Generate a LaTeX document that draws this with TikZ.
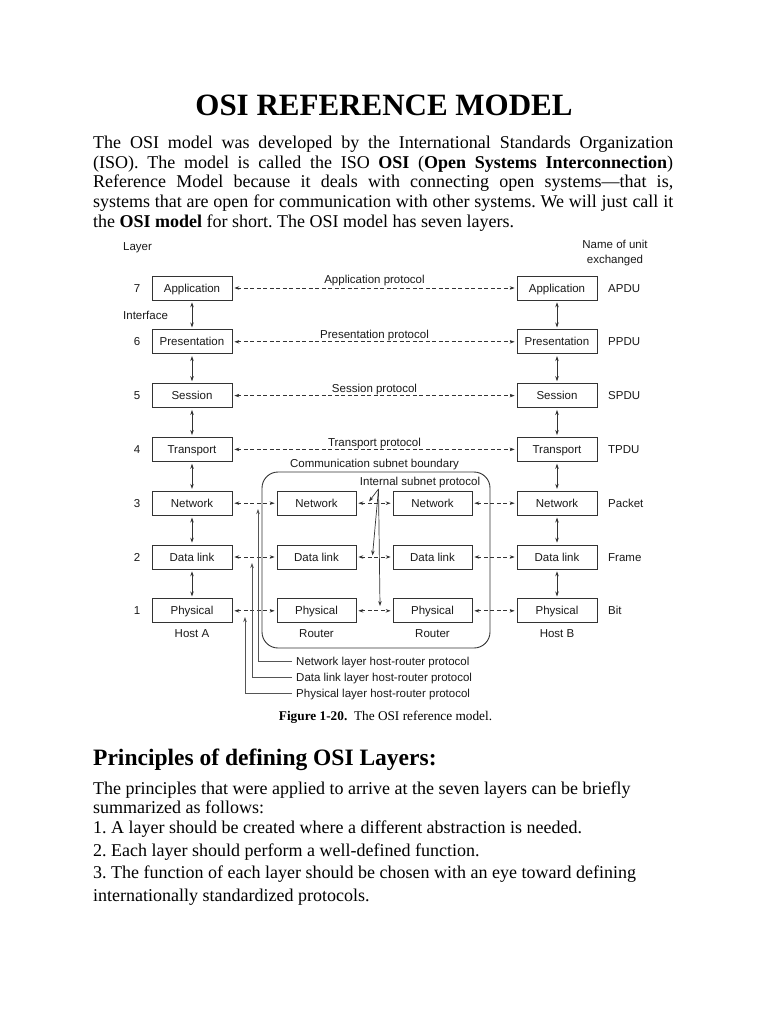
\documentclass[tikz,border=0pt]{standalone}
\usepackage{fontspec}
\setmainfont{Liberation Serif}
\newfontfamily\dsans{Liberation Sans}
\usetikzlibrary{arrows.meta}
\definecolor{linec}{HTML}{333333}
\definecolor{txt}{HTML}{1A1A1A}
\definecolor{hrc}{HTML}{555555}
\frenchspacing
\begin{document}
\begin{tikzpicture}[x=1pt,y=-1pt,
  lay/.style={draw=linec, line width=0.7pt, minimum width=80pt, minimum height=24pt, inner sep=0pt, text height=8.2pt, text depth=0pt, font=\dsans\fontsize{11.5}{13}\selectfont, text=txt},
  lbl/.style={font=\dsans\fontsize{11.5}{13}\selectfont, text=txt, inner sep=0pt, text height=8.2pt, text depth=0pt},
  proto/.style={draw=linec, line width=0.75pt, dash pattern=on 4pt off 2.5pt, {Stealth[length=5pt,width=3.5pt]}-{Stealth[length=5pt,width=3.5pt]}, shorten <=2pt, shorten >=2pt},
  iface/.style={draw=linec, line width=0.7pt, {Stealth[length=5pt,width=3.5pt]}-{Stealth[length=5pt,width=3.5pt]}, shorten <=2pt, shorten >=2pt},
  isp/.style={draw=linec, line width=0.7pt, -{Stealth[length=5pt,width=3.5pt]}},
  hr/.style={draw=hrc, line width=0.7pt, -{Stealth[length=5pt,width=3.5pt]}},
  body/.style={font=\fontsize{18}{21}\selectfont, inner sep=0pt, anchor=base west, text=black}
]
\useasboundingbox[fill=white] (0,0) rectangle (768,1024);

% ---------- text ----------
\node[font=\bfseries\fontsize{31}{36}\selectfont, anchor=base, inner sep=0pt] (title) at (384,116) {OSI REFERENCE MODEL};
\node[body] (l1) at (93,149) {\makebox[580pt][s]{The OSI model was developed by the International Standards Organization}};
\node[body] (l2) at (93,168.5) {\makebox[580pt][s]{(ISO). The model is called the ISO \textbf{OSI} (\textbf{Open Systems Interconnection})}};
\node[body] (l3) at (93,188) {\makebox[580pt][s]{Reference Model because it deals with connecting open systems—that is,}};
\node[body] (l4) at (93,207.5) {\makebox[580pt][s]{systems that are open for communication with other systems. We will just call it}};
\node[body] (l5) at (93,227) {the \textbf{OSI model} for short. The OSI model has seven layers.};

\node[font=\bfseries\fontsize{23.5}{28}\selectfont, anchor=base west, inner sep=0pt] (h2) at (93,765) {Principles of defining OSI Layers:};
\node[body] (m1) at (93,794) {The principles that were applied to arrive at the seven layers can be briefly};
\node[body] (m2) at (93,813) {summarized as follows:};
\node[body] (m3) at (93,833) {1. A layer should be created where a different abstraction is needed.};
\node[body] (m4) at (93,856) {2. Each layer should perform a well-defined function.};
\node[body] (m5) at (93,878) {3. The function of each layer should be chosen with an eye toward defining};
\node[body] (m6) at (93,901) {internationally standardized protocols.};

\node[anchor=base, inner sep=0pt, font=\fontsize{13.3}{15}\selectfont] (cap) at (385.5,720) {\textbf{Figure 1-20.}\ \ The OSI reference model.};

% ---------- diagram labels ----------
\node[lbl, anchor=west] (layer) at (123,246) {Layer};
\node[font=\dsans\fontsize{11.5}{15}\selectfont, text=txt, inner sep=0pt, align=center] (unit) at (615,253.5) {Name of unit\\exchanged};
\node[lbl, anchor=west] (iface) at (123,315) {Interface};

% subnet boundary
\node[draw=linec, line width=0.9pt, rounded corners=16pt, minimum width=228pt, minimum height=176pt, inner sep=0pt] (subnet) at (376,560) {};

% boxes
\node[lay] (a7) at (192,288) {Application};
\node[lay] (a6) at (192,341.8) {Presentation};
\node[lay] (a5) at (192,395.6) {Session};
\node[lay] (a4) at (192,449.4) {Transport};
\node[lay] (a3) at (192,503.2) {Network};
\node[lay] (a2) at (192,557) {Data link};
\node[lay] (a1) at (192,610.8) {Physical};

\node[lay] (b7) at (557,288) {Application};
\node[lay] (b6) at (557,341.8) {Presentation};
\node[lay] (b5) at (557,395.6) {Session};
\node[lay] (b4) at (557,449.4) {Transport};
\node[lay] (b3) at (557,503.2) {Network};
\node[lay] (b2) at (557,557) {Data link};
\node[lay] (b1) at (557,610.8) {Physical};

\node[lay, minimum width=79pt] (r3) at (316.5,503.2) {Network};
\node[lay, minimum width=79pt] (r2) at (316.5,557) {Data link};
\node[lay, minimum width=79pt] (r1) at (316.5,610.8) {Physical};
\node[lay, minimum width=79pt] (s3) at (432.5,503.2) {Network};
\node[lay, minimum width=79pt] (s2) at (432.5,557) {Data link};
\node[lay, minimum width=79pt] (s1) at (432.5,610.8) {Physical};

% layer numbers
\foreach \n/\y in {7/288,6/341.8,5/395.6,4/449.4,3/503.2,2/557,1/610.8}
  \node[lbl] (num\n) at (137,\y) {\n};
% unit names
\node[lbl, anchor=west] (u7) at (608,288) {APDU};
\node[lbl, anchor=west] (u6) at (608,341.8) {PPDU};
\node[lbl, anchor=west] (u5) at (608,395.6) {SPDU};
\node[lbl, anchor=west] (u4) at (608,449.4) {TPDU};
\node[lbl, anchor=west] (u3) at (608,503.2) {Packet};
\node[lbl, anchor=west] (u2) at (608,557) {Frame};
\node[lbl, anchor=west] (u1) at (608,610.8) {Bit};

% host labels
\node[lbl] (ha) at (192,633) {Host A};
\node[lbl] (hr1) at (316.5,633) {Router};
\node[lbl] (hr2) at (432.5,633) {Router};
\node[lbl] (hb) at (557,633) {Host B};

% protocol labels
\node[lbl] (p7) at (374.5,279) {Application protocol};
\node[lbl] (p6) at (374.5,334.5) {Presentation protocol};
\node[lbl] (p5) at (374.5,388) {Session protocol};
\node[lbl] (p4) at (374.5,442) {Transport protocol};
\node[lbl] (csb) at (374.5,463) {Communication subnet boundary};
\node[lbl] (isl) at (420,481) {Internal subnet protocol};

% peer protocol arrows
\draw[proto] (a7) -- (b7);
\draw[proto] (a6) -- (b6);
\draw[proto] (a5) -- (b5);
\draw[proto] (a4) -- (b4);
\foreach \k in {3,2,1}{
  \draw[proto] (a\k) -- (r\k);
  \draw[proto] (r\k) -- (s\k);
  \draw[proto] (s\k) -- (b\k);
}

% interfaces
\foreach \u/\l in {7/6,6/5,5/4,4/3,3/2,2/1}{
  \draw[iface] (a\u) -- (a\l);
  \draw[iface] (b\u) -- (b\l);
}

% internal subnet protocol pointers
\coordinate (is0) at (378.5,489);
\coordinate (is1) at (369,501.5);
\coordinate (is2) at (372.5,555.5);
\coordinate (is3) at (380,606);
\draw[isp] (is0) -- (is1);
\draw[isp] (is0) -- (is2);
\draw[isp] (is0) -- (is3);

% host-router protocols
\node[lbl, anchor=west] (hn) at (296,661) {Network layer host-router protocol};
\node[lbl, anchor=west] (hd) at (296,677) {Data link layer host-router protocol};
\node[lbl, anchor=west] (hp) at (296,693) {Physical layer host-router protocol};
\coordinate (tn) at (258,509);
\coordinate (td) at (252,563);
\coordinate (tp) at (245,617);
\draw[hr] ([xshift=-4pt]hn.west) -| (tn);
\draw[hr] ([xshift=-4pt]hd.west) -| (td);
\draw[hr] ([xshift=-4pt]hp.west) -| (tp);
\end{tikzpicture}
\end{document}
